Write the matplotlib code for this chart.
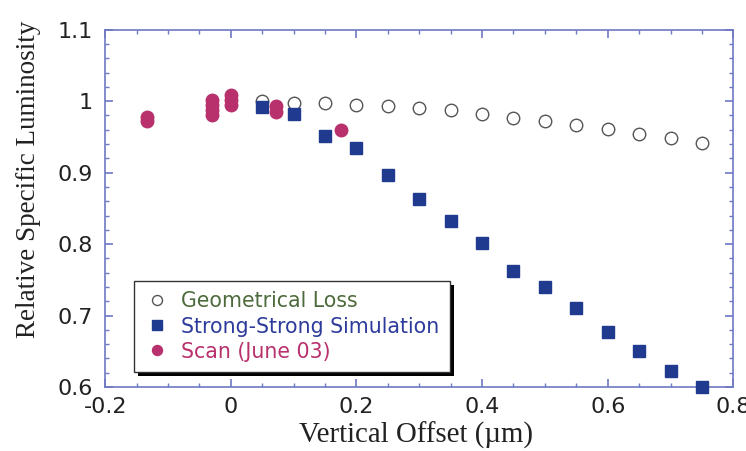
import matplotlib
matplotlib.use("Agg")
import matplotlib.pyplot as plt
from matplotlib.ticker import MultipleLocator
import matplotlib.patheffects as pe

# offsets (um)
offset = [0.05, 0.10, 0.15, 0.20, 0.25, 0.30, 0.35, 0.40,
          0.45, 0.50, 0.55, 0.60, 0.65, 0.70, 0.75]
geom_loss = [1.000, 0.998, 0.997, 0.995, 0.993, 0.990, 0.987, 0.982,
             0.977, 0.972, 0.967, 0.961, 0.954, 0.948, 0.941]
sim = [0.992, 0.982, 0.951, 0.934, 0.897, 0.863, 0.833, 0.801,
       0.762, 0.740, 0.710, 0.677, 0.650, 0.622, 0.600]

scan_x = [-0.133, -0.133, -0.030, -0.030, -0.030, -0.030,
          0.0, 0.0, 0.0, 0.072, 0.072, 0.176]
scan_y = [0.972, 0.978, 0.981, 0.987, 0.994, 1.001,
          0.995, 1.002, 1.008, 0.985, 0.993, 0.959]

xticks = [-0.2, 0, 0.2, 0.4, 0.6, 0.8]
xtick_labels = ["-0.2", "0", "0.2", "0.4", "0.6", "0.8"]
yticks = [0.6, 0.7, 0.8, 0.9, 1.0, 1.1]
ytick_labels = ["0.6", "0.7", "0.8", "0.9", "1", "1.1"]

spine_col = "#6f78c4"
sq_col = "#1f3a8f"
scan_col = "#b8306c"

fig = plt.figure(figsize=(7.46, 4.51), dpi=100)
ax = fig.add_axes([0.141, 0.142, 0.842, 0.792])

ax.plot(offset, geom_loss, "o", ms=9, mfc="white", mec="#555555", mew=1.0,
        label="Geometrical Loss", clip_on=False, zorder=3)
ax.plot(offset, sim, "s", ms=9, color=sq_col, mec=sq_col,
        label="Strong-Strong Simulation", clip_on=False, zorder=3)
ax.plot(scan_x, scan_y, "o", ms=9, color=scan_col, mec=scan_col,
        label="Scan (June 03)", clip_on=False, zorder=4)

ax.set_xlim(-0.2, 0.8)
ax.set_ylim(0.6, 1.1)
ax.xaxis.set_minor_locator(MultipleLocator(0.05))
ax.yaxis.set_minor_locator(MultipleLocator(0.02))
ax.set_xticks(xticks)
ax.set_xticklabels(xtick_labels)
ax.set_yticks(yticks)
ax.set_yticklabels(ytick_labels)

for s in ax.spines.values():
    s.set_color(spine_col)
    s.set_linewidth(1.2)
ax.tick_params(which="both", direction="in", top=True, right=True,
               color=spine_col, labelsize=16, labelcolor="#222222")
ax.tick_params(which="major", length=6, width=1.2, pad=7)
ax.tick_params(which="minor", length=3, width=1.0)
ax.tick_params(axis="y", which="major", pad=9)

serif = ["Liberation Serif", "DejaVu Serif"]
ax.set_xlabel("Vertical Offset (\u00b5m)", family=serif, fontsize=20.8,
              color="#222222")
ax.xaxis.set_label_coords(0.495, -0.098)
ax.set_ylabel("Relative Specific Luminosity", family=serif, fontsize=19.5,
              color="#222222")
ax.yaxis.set_label_coords(-0.102, 0.58)

leg = ax.legend(loc="lower left", bbox_to_anchor=(0.046, 0.042),
                frameon=True, fancybox=False, shadow=False, framealpha=1.0,
                prop={"family": "DejaVu Sans", "size": 14.8},
                handletextpad=0.6, handlelength=1.2, borderpad=0.5,
                labelspacing=0.25, markerscale=0.8, borderaxespad=0)
frame = leg.get_frame()
frame.set_facecolor("white")
frame.set_edgecolor("#333333")
frame.set_linewidth(1.0)
frame.set_path_effects([pe.SimplePatchShadow(offset=(3, -3), shadow_rgbFace="black", alpha=1.0),
                        pe.Normal()])
for txt, c in zip(leg.get_texts(), ["#4d6b3c", "#2d3c9c", "#b8306c"]):
    txt.set_color(c)

fig.savefig("out.png", dpi=100)
